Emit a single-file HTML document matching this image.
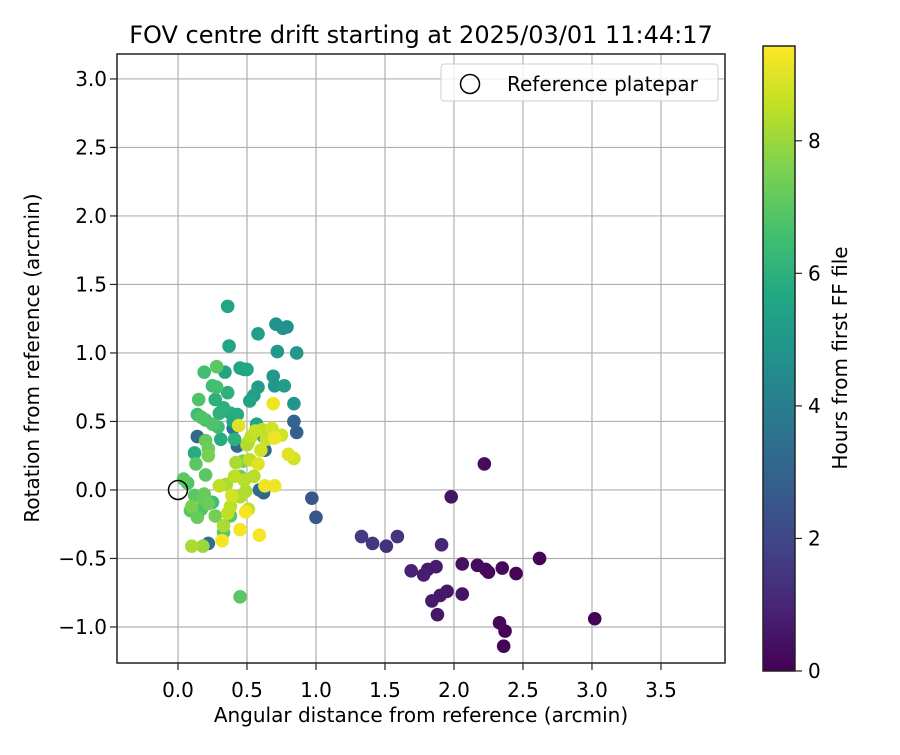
<!DOCTYPE html>
<html><head><meta charset="utf-8"><style>
body{margin:0;background:#fff}
svg text{font-family:"DejaVu Sans","Liberation Sans",sans-serif;fill:#000}
</style></head><body>
<svg id="chart" width="900" height="750" xmlns="http://www.w3.org/2000/svg">
<defs>
<linearGradient id="vir" x1="0" y1="1" x2="0" y2="0">
<stop offset="0" stop-color="#440154"/><stop offset="0.1" stop-color="#482475"/><stop offset="0.2" stop-color="#414487"/><stop offset="0.3" stop-color="#355f8d"/><stop offset="0.4" stop-color="#2a788e"/><stop offset="0.5" stop-color="#21918c"/><stop offset="0.6" stop-color="#22a884"/><stop offset="0.7" stop-color="#44bf70"/><stop offset="0.8" stop-color="#7ad151"/><stop offset="0.9" stop-color="#bddf26"/><stop offset="1" stop-color="#fde725"/>
</linearGradient>
<clipPath id="clip"><rect x="117" y="54" width="608" height="609"/></clipPath>
</defs>
<text x="421" y="43" font-size="24" text-anchor="middle">FOV centre drift starting at 2025/03/01 11:44:17</text>
<g id="grid"></g>
<g id="points" clip-path="url(#clip)"></g>
<rect x="117" y="54" width="608" height="609" fill="none" stroke="#222" stroke-width="1.5"/>
<g id="xticks"></g><g id="yticks"></g>
<text x="421" y="722" font-size="20" text-anchor="middle">Angular distance from reference (arcmin)</text>
<text transform="translate(39,358) rotate(-90)" font-size="20" text-anchor="middle">Rotation from reference (arcmin)</text>
<g>
<rect x="441" y="64" width="277" height="37" rx="3" fill="#fff" fill-opacity="0.8" stroke="#ccc"/>
<circle cx="470" cy="84" r="9.5" fill="none" stroke="#000" stroke-width="1.5"/>
<text x="507" y="91" font-size="20">Reference platepar</text>
</g>
<rect x="763" y="46" width="32" height="625" fill="url(#vir)" stroke="#222" stroke-width="1.5"/>
<g id="cticks"></g>
<text transform="translate(847,358) rotate(-90)" font-size="20" text-anchor="middle">Hours from first FF file</text>
</svg>
<script>
const xTicks=[0,0.5,1,1.5,2,2.5,3,3.5];
const xTickLabels=["0.0","0.5","1.0","1.5","2.0","2.5","3.0","3.5"];
const yTicks=[-1,-0.5,0,0.5,1,1.5,2,2.5,3];
const yTickLabels=["−1.0","−0.5","0.0","0.5","1.0","1.5","2.0","2.5","3.0"];
const cTicks=[0,2,4,6,8];
const distances=[2.22,1.98,1.91,1.69,1.78,1.81,1.87,2.06,2.17,2.23,2.25,2.35,2.45,2.62,1.84,1.90,1.95,2.06,1.88,2.33,2.37,2.36,3.02,1.33,1.41,1.51,1.59,
0.97,1.00,0.86,0.84,0.14,0.43,0.63,0.59,0.62,0.22,0.40,
0.36,0.37,0.58,0.71,0.76,0.79,0.72,0.86,0.34,0.45,0.48,0.50,0.69,0.70,0.77,0.58,0.55,0.52,0.84,0.43,0.40,0.57,0.62,0.30,0.33,0.38,0.36,0.27,0.25,0.28,0.19,0.15,0.20,0.29,0.25,0.31,0.41,0.14,0.17,0.12,
0.28,0.20,0.22,0.22,0.20,0.13,0.04,0.07,0.12,0.18,0.22,0.25,0.09,0.14,0.19,0.27,0.33,0.45,0.38,0.17,0.10,0.47,0.45,
0.10,0.18,0.33,0.41,0.42,0.51,0.53,0.48,0.50,0.35,0.45,0.38,0.49,0.55,0.64,0.56,0.61,0.68,0.75,0.80,0.84,0.60,0.52,0.58,0.70,0.63,0.70,0.69,0.44,0.59,0.32,0.45,0.49,0.39,0.51,0.36,0.30];
const rotations=[0.19,-0.05,-0.40,-0.59,-0.62,-0.58,-0.56,-0.54,-0.55,-0.58,-0.60,-0.57,-0.61,-0.50,-0.81,-0.77,-0.74,-0.76,-0.91,-0.97,-1.03,-1.14,-0.94,-0.34,-0.39,-0.41,-0.34,
-0.06,-0.20,0.42,0.50,0.39,0.32,0.29,0.00,-0.02,-0.39,0.45,
1.34,1.05,1.14,1.21,1.18,1.19,1.01,1.00,0.86,0.89,0.88,0.88,0.83,0.76,0.76,0.75,0.69,0.65,0.63,0.55,0.50,0.48,0.39,0.56,0.60,0.56,0.71,0.66,0.76,0.75,0.86,0.66,0.51,0.46,0.48,0.37,0.37,0.55,0.53,0.27,
0.90,0.36,0.30,0.25,0.11,0.19,0.08,0.05,-0.04,-0.06,-0.10,-0.09,-0.15,-0.20,-0.03,-0.19,-0.31,-0.78,-0.19,-0.14,-0.12,0.21,0.10,
-0.41,-0.41,-0.26,0.10,0.20,0.35,0.39,0.07,0.33,0.04,-0.05,-0.12,-0.01,0.10,0.37,0.43,0.44,0.45,0.40,0.26,0.23,0.29,0.22,0.19,0.38,0.03,0.03,0.63,0.47,-0.33,-0.37,-0.29,-0.16,-0.04,-0.14,-0.17,0.03];
const hours=[0.3,0.5,1.0,0.9,0.8,0.7,0.7,0.4,0.3,0.2,0.2,0.2,0.1,0.1,0.7,0.6,0.6,0.5,0.6,0.2,0.1,0.1,0.1,1.6,1.5,1.3,1.4,
2.5,2.5,2.8,3.0,3.2,3.3,3.2,3.3,3.0,3.5,3.6,
5.5,5.5,5.3,4.8,4.8,4.7,5.0,5.0,5.5,5.4,5.5,5.6,5.0,5.0,5.2,5.2,5.3,5.4,4.9,5.8,5.6,5.4,5.5,6.0,6.0,5.8,6.0,6.0,6.5,6.6,6.5,6.8,6.6,6.5,6.8,5.8,6.0,6.5,6.8,5.8,
7.0,7.2,7.3,7.5,7.0,7.0,7.0,6.8,7.0,7.2,7.3,6.5,7.0,7.2,7.2,7.4,7.0,7.0,7.0,6.8,7.5,7.5,7.4,
8.2,8.0,8.2,8.5,8.2,8.3,8.5,8.4,8.3,8.2,8.3,8.5,8.3,8.4,8.6,8.6,8.5,8.8,8.8,9.0,8.8,8.8,8.5,9.0,9.2,9.2,9.2,9.2,9.0,9.3,9.3,9.3,9.3,8.8,8.6,8.5,8.5];
const NS="http://www.w3.org/2000/svg";
const X0=117,X1=725,XMIN=-0.442,XMAX=3.964,Y0=663,Y1=54,YMIN=-1.263,YMAX=3.182,CMAX=9.43;
function sx(v){return X0+(v-XMIN)/(XMAX-XMIN)*(X1-X0);}
function sy(v){return Y0-(v-YMIN)/(YMAX-YMIN)*(Y0-Y1);}
function cy(v){return 671-v/CMAX*625;}
const vir=[[68,1,84],[72,36,117],[65,68,135],[53,95,141],[42,120,142],[33,145,140],[34,168,132],[68,191,112],[122,209,81],[189,223,38],[253,231,37]];
function color(h){let t=Math.max(0,Math.min(1,h/CMAX))*10;let i=Math.min(9,Math.floor(t)),f=t-i;
const a=vir[i],b=vir[i+1];return `rgb(${a.map((c,k)=>Math.round(c+(b[k]-c)*f)).join(',')})`;}
function el(t,at,p){const e=document.createElementNS(NS,t);for(const k in at)e.setAttribute(k,at[k]);p.appendChild(e);return e;}
const grid=document.getElementById('grid'),xt=document.getElementById('xticks'),yt=document.getElementById('yticks');
xTicks.forEach((v,i)=>{const x=sx(v);
const g=el('line',{x1:x,x2:x,y1:Y1,y2:Y0,stroke:'#b0b0b0','stroke-width':1.2},grid);


const t=el('line',{x1:x,x2:x,y1:Y0,y2:Y0+7,stroke:'#222','stroke-width':1.2},xt);


const l=el('text',{x:x,y:Y0+34,'font-size':20,'text-anchor':'middle'},xt);l.textContent=xTickLabels[i];

});
yTicks.forEach((v,i)=>{const y=sy(v);
const g=el('line',{x1:X0,x2:X1,y1:y,y2:y,stroke:'#b0b0b0','stroke-width':1.2},grid);


const t=el('line',{x1:X0-7,x2:X0,y1:y,y2:y,stroke:'#222','stroke-width':1.2},yt);


const l=el('text',{x:X0-10,y:y+7,'font-size':20,'text-anchor':'end'},yt);l.textContent=yTickLabels[i];

});
const ct=document.getElementById('cticks');
cTicks.forEach(v=>{const y=cy(v);
const t=el('line',{x1:795,x2:802,y1:y,y2:y,stroke:'#222','stroke-width':1.2},ct);


const l=el('text',{x:808,y:y+7,'font-size':20},ct);l.textContent=String(v);

});
const pts=document.getElementById('points');
const idx=hours.map((h,i)=>i).sort((a,b)=>hours[a]-hours[b]);
idx.forEach(i=>{const c=el('circle',{cx:sx(distances[i]),cy:sy(rotations[i]),r:6.8,fill:color(hours[i])},pts);

});
const r=el('circle',{cx:sx(0),cy:sy(0),r:9.5,fill:'none',stroke:'#000','stroke-width':1.5},pts);


</script>
</body></html>
